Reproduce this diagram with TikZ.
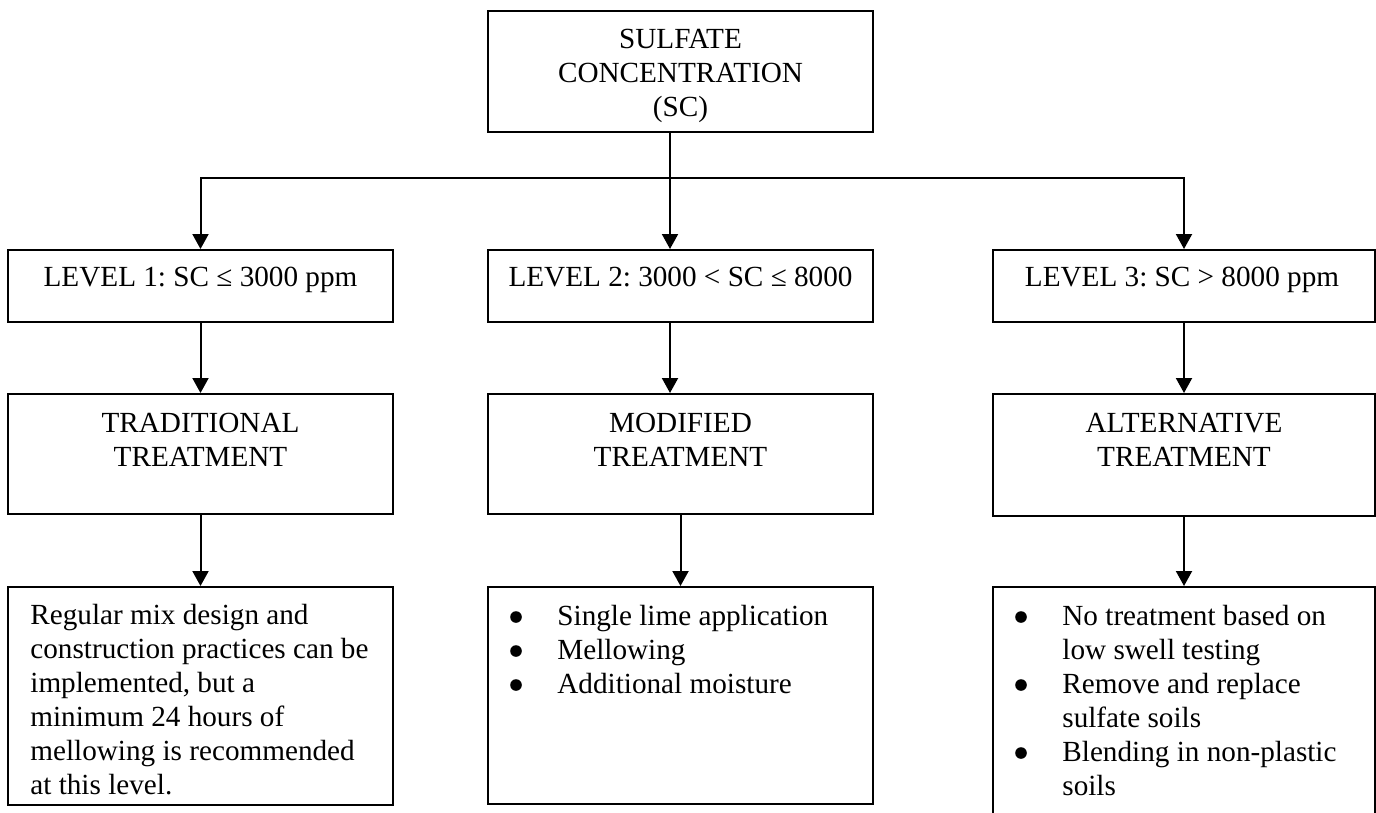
\documentclass[tikz,border=0pt]{standalone}
\usepackage{fontspec}
\setmainfont{Liberation Serif}
\usetikzlibrary{arrows.meta}
\frenchspacing
\newcommand{\bulskip}{\hspace*{23.5pt}}
\begin{document}
\begin{tikzpicture}[x=0.5pt,y=-0.5pt,
  box/.style={draw,line width=1pt,inner sep=0pt,minimum width=192.5pt},
  txt/.style={inner sep=0pt,font=\fontsize{14.6pt}{17pt}\selectfont},
  arr/.style={line width=1pt,-{Triangle[width=8pt,length=7.5pt]}},
  ln/.style={line width=1pt},
  bullet/.style={fill=black}]
\useasboundingbox (0,0) rectangle (1376,813);
% boxes
\node[box,minimum height=60.5pt] (top) at (680.5,71.5) {};
\node[box,minimum height=36pt] (L1) at (200.5,286) {};
\node[box,minimum height=36pt] (L2) at (680.5,286) {};
\node[box,minimum height=36pt,minimum width=191pt] (L3) at (1184,286) {};
\node[box,minimum height=60pt] (T1) at (200.5,454) {};
\node[box,minimum height=60pt] (T2) at (680.5,454) {};
\node[box,minimum height=61pt,minimum width=191pt] (T3) at (1184,455) {};
\node[box,minimum height=109pt] (B1) at (200.5,696) {};
\node[box,minimum height=108.5pt] (B2) at (680.5,695.5) {};
\node[box,minimum height=126.5pt,minimum width=191pt] (B3) at (1184,713.5) {};
% texts
\node[txt,align=center,anchor=north] (topt) at (680.5,29) {SULFATE\\CONCENTRATION\\(SC)};
\node[txt,anchor=base] (L1t) at (200.5,286) {LEVEL 1: SC ≤ 3000 ppm};
\node[txt,anchor=base] (L2t) at (680.5,286) {LEVEL 2: 3000 < SC ≤ 8000};
\node[txt,anchor=base] (L3t) at (1182,286) {LEVEL 3: SC > 8000 ppm};
\node[txt,align=center,anchor=north] (T1t) at (200.5,413) {TRADITIONAL\\TREATMENT};
\node[txt,align=center,anchor=north] (T2t) at (680.5,413) {MODIFIED\\TREATMENT};
\node[txt,align=center,anchor=north] (T3t) at (1184,413) {ALTERNATIVE\\TREATMENT};
\node[txt,align=left,anchor=north west] (B1t) at (30,604) {Regular mix design and\\construction practices can be\\implemented, but a\\minimum 24 hours of\\mellowing is recommended\\at this level.};
\node[txt,align=left,anchor=north west] (B2t) at (510,605) {\bulskip Single lime application\\\bulskip Mellowing\\\bulskip Additional moisture};
\node[txt,align=left,anchor=north west] (B3t) at (1015,605) {\bulskip No treatment based on\\\bulskip low swell testing\\\bulskip Remove and replace\\\bulskip sulfate soils\\\bulskip Blending in non-plastic\\\bulskip soils};
% bullets
\foreach \y in {617,651,685} \fill[bullet] (516,\y) circle (2.9pt);
\foreach \y in {617,685,753} \fill[bullet] (1021,\y) circle (2.9pt);
% connectors
\coordinate (j) at (670,178);
\draw[ln] (top.south -| j) -- (j);
\draw[arr] (j) -| (L1.north);
\draw[arr] (j) -| (L3.north);
\draw[arr] (j) -- (L2.north -| j);
\draw[arr] (L1.south) -- (T1.north);
\draw[arr] (L2.south -| j) -- (T2.north -| j);
\draw[arr] (L3.south) -- (T3.north);
\draw[arr] (T1.south) -- (B1.north);
\draw[arr] (T2.south) -- (B2.north);
\draw[arr] (T3.south) -- (B3.north);
\end{tikzpicture}
\end{document}
